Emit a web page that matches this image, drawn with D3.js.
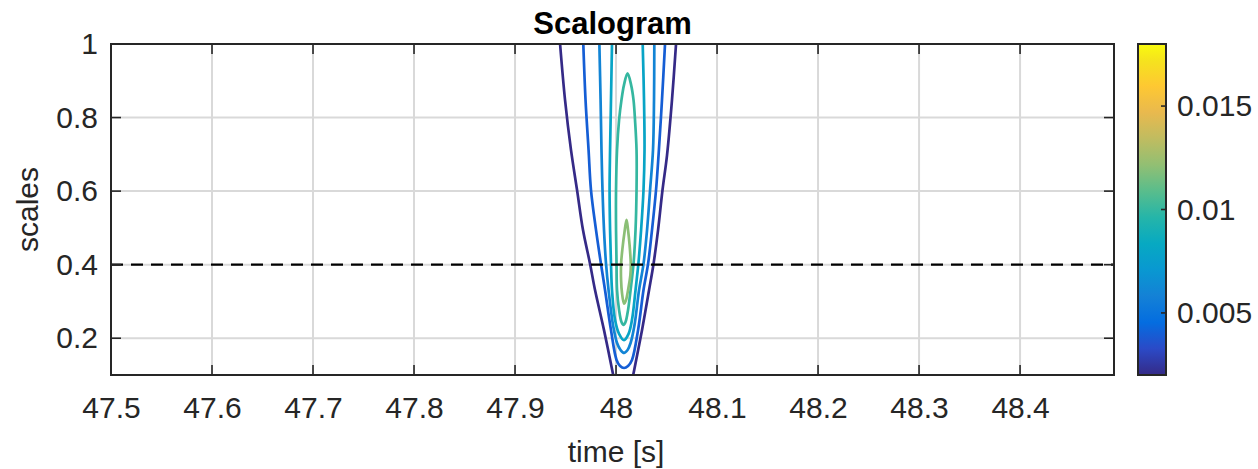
<!DOCTYPE html>
<html>
<head>
<meta charset="utf-8">
<script src="https://cdn.jsdelivr.net/npm/d3@7"></script>
<style>
  body { margin: 0; background: #fff; }
  text { font-family: "Liberation Sans", Arial, sans-serif; fill: #262626; }
</style>
</head>
<body>
<svg id="chart"></svg>
<script>
// axis ranges and ticks
const timeDomain = [47.5, 48.493];
const scaleDomain = [0.1, 1];
const timeTicks = [47.5, 47.6, 47.7, 47.8, 47.9, 48, 48.1, 48.2, 48.3, 48.4];
const scaleTicks = [0.2, 0.4, 0.6, 0.8, 1];
const colorDomain = [0.002, 0.018];
const colorTicks = [0.005, 0.01, 0.015];
const markerScale = 0.4;

// contour levels (coefficient magnitude)
const levels = [0.002, 0.004, 0.006, 0.008, 0.010, 0.012];

// contour paths, [time, scale]
const level1Left = [[47.9446, 1.0], [47.9495, 0.848], [47.9554, 0.712], [47.9614, 0.603], [47.9673, 0.494],
  [47.9743, 0.402], [47.9792, 0.331], [47.9881, 0.222], [47.9972, 0.1]];
const level1Right = [[48.0170, 0.1], [48.0257, 0.222], [48.0327, 0.331], [48.0371, 0.402], [48.0416, 0.494],
  [48.0460, 0.603], [48.0505, 0.698], [48.0554, 0.848], [48.0594, 1.0]];
const level2 = [[47.9676, 1.0], [47.9698, 0.848], [47.9728, 0.712], [47.9752, 0.603], [47.9802, 0.494],
  [47.9851, 0.402], [47.9891, 0.331], [47.9950, 0.222], [48.0005, 0.141], [48.0040, 0.1245], [48.0079, 0.119],
  [48.0119, 0.1245], [48.0158, 0.141], [48.0218, 0.222], [48.0272, 0.331], [48.0317, 0.402], [48.0356, 0.494],
  [48.0396, 0.603], [48.0421, 0.698], [48.0455, 0.848], [48.0485, 1.0]];
const level3 = [[47.9835, 1.0], [47.9847, 0.848], [47.9856, 0.712], [47.9866, 0.603], [47.9881, 0.494],
  [47.9901, 0.402], [47.9926, 0.331], [47.9970, 0.236], [48.0010, 0.187], [48.0045, 0.168], [48.0079, 0.160],
  [48.0114, 0.168], [48.0144, 0.187], [48.0183, 0.236], [48.0228, 0.331], [48.0272, 0.402], [48.0307, 0.494],
  [48.0337, 0.603], [48.0366, 0.712], [48.0376, 0.848], [48.0379, 1.0]];
const level4 = [[47.9960, 1.0], [47.9950, 0.848], [47.9941, 0.712], [47.9936, 0.603], [47.9941, 0.494],
  [47.9950, 0.402], [47.9960, 0.331], [47.9990, 0.250], [48.0030, 0.212], [48.0079, 0.195],
  [48.0124, 0.212], [48.0158, 0.250], [48.0193, 0.331], [48.0221, 0.402], [48.0248, 0.494],
  [48.0272, 0.603], [48.0282, 0.712], [48.0277, 0.848], [48.0264, 1.0]];
const level5 = [[48.0114, 0.920], [48.0079, 0.889], [48.0054, 0.848], [48.0030, 0.793], [48.0010, 0.712],
  [48.0000, 0.603], [48.0000, 0.494], [48.0005, 0.402], [48.0010, 0.331], [48.0030, 0.277], [48.0054, 0.244],
  [48.0074, 0.236], [48.0094, 0.244], [48.0119, 0.277], [48.0144, 0.331], [48.0173, 0.402], [48.0193, 0.494],
  [48.0203, 0.603], [48.0203, 0.712], [48.0188, 0.793], [48.0173, 0.848], [48.0149, 0.889]];
const level6 = [[48.0104, 0.522], [48.0084, 0.489], [48.0064, 0.445], [48.0050, 0.402], [48.0050, 0.358],
  [48.0059, 0.323], [48.0079, 0.294], [48.0099, 0.304], [48.0119, 0.331], [48.0142, 0.372],
  [48.0146, 0.402], [48.0134, 0.454], [48.0119, 0.494]];

const contourLines = [
  {level: levels[0], points: level1Left, closed: false},
  {level: levels[0], points: level1Right, closed: false},
  {level: levels[1], points: level2, closed: false},
  {level: levels[2], points: level3, closed: false},
  {level: levels[3], points: level4, closed: false},
  {level: levels[4], points: level5, closed: true},
  {level: levels[5], points: level6, closed: true}
];

// parula colormap samples
const parula = ['#352a87', '#2b4ac7', '#046de0', '#1481d6', '#0998d1', '#07a9c2', '#25b5a9',
  '#59bd8c', '#92bf73', '#c0bc60', '#e9b94e', '#fec832', '#f5e41d', '#f9fb0e'];
const parulaPos = [0, 5, 10, 15, 20, 25, 30, 35, 40, 45, 50, 55, 60, 63].map(i => i / 63);

const W = 1258, H = 469;
const margin = {top: 44, left: 111, right: 144, bottom: 94};
const width = W - margin.left - margin.right;
const height = H - margin.top - margin.bottom;

const svg = d3.select('#chart').attr('width', W).attr('height', H);

const x = d3.scaleLinear().domain(timeDomain).range([0, width]);
const y = d3.scaleLinear().domain(scaleDomain).range([height, 0]);
const frac = d3.scaleLinear().domain(colorDomain).range([0, 1]).clamp(true);
const cmap = d3.scaleLinear().domain(parulaPos).range(parula).interpolate(d3.interpolateRgb);
const color = v => cmap(frac(v));

const chart = svg.append('g').attr('transform', `translate(${margin.left},${margin.top})`);

svg.append('defs').append('clipPath').attr('id', 'clip')
  .append('rect').attr('width', width).attr('height', height);

// grid
chart.append('g')
  .selectAll('line.vgrid')
  .data(timeTicks)
  .join('line')
    .attr('x1', d => x(d)).attr('x2', d => x(d))
    .attr('y1', 0).attr('y2', height)
    .attr('stroke', '#d9d9d9').attr('stroke-width', 2);
chart.append('g')
  .selectAll('line.hgrid')
  .data(scaleTicks)
  .join('line')
    .attr('y1', d => y(d)).attr('y2', d => y(d))
    .attr('x1', 0).attr('x2', width)
    .attr('stroke', '#d9d9d9').attr('stroke-width', 2);

// contours
const line = d3.line().x(d => x(d[0])).y(d => y(d[1])).curve(d3.curveCatmullRom);
const loop = d3.line().x(d => x(d[0])).y(d => y(d[1])).curve(d3.curveCatmullRomClosed);
chart.append('g').attr('clip-path', 'url(#clip)')
  .selectAll('path')
  .data(contourLines)
  .join('path')
    .attr('d', d => d.closed ? loop(d.points) : line(d.points))
    .attr('fill', 'none')
    .attr('stroke', d => color(d.level))
    .attr('stroke-width', 2.7);

// dashed marker line
chart.append('line')
  .attr('x1', 0).attr('x2', width)
  .attr('y1', y(markerScale)).attr('y2', y(markerScale))
  .attr('stroke', '#000').attr('stroke-width', 2.4)
  .attr('stroke-dasharray', '12,8');

// axes (ticks inside, box on all sides)
const tickLen = 10;
const axisColor = '#262626';
const xAxis = d3.axisBottom(x).tickValues(timeTicks).tickSize(0).tickPadding(22).tickFormat(d3.format('~g'));
const yAxis = d3.axisLeft(y).tickValues(scaleTicks).tickSize(0).tickPadding(13).tickFormat(d3.format('~g'));

const xAxisG = chart.append('g').attr('transform', `translate(0,${height})`).call(xAxis);
const yAxisG = chart.append('g').call(yAxis);
[xAxisG, yAxisG].forEach(g => {
  g.select('.domain').remove();
  g.selectAll('text').style('font-size', '30px').attr('fill', axisColor)
    .style('font-family', '"Liberation Sans", Arial, sans-serif');
});

const ticks = chart.append('g').attr('stroke', axisColor).attr('stroke-width', 1.6);
timeTicks.forEach(t => {
  ticks.append('line').attr('x1', x(t)).attr('x2', x(t)).attr('y1', height).attr('y2', height - tickLen);
  ticks.append('line').attr('x1', x(t)).attr('x2', x(t)).attr('y1', 0).attr('y2', tickLen);
});
scaleTicks.forEach(s => {
  ticks.append('line').attr('y1', y(s)).attr('y2', y(s)).attr('x1', 0).attr('x2', tickLen);
  ticks.append('line').attr('y1', y(s)).attr('y2', y(s)).attr('x1', width).attr('x2', width - tickLen);
});

chart.append('rect')
  .attr('width', width).attr('height', height)
  .attr('fill', 'none').attr('stroke', axisColor).attr('stroke-width', 2);

// titles
chart.append('text')
  .attr('x', width / 2).attr('y', -10)
  .attr('text-anchor', 'middle')
  .style('font-size', '31px').style('font-weight', 'bold').style('fill', '#000')
  .text('Scalogram');

chart.append('text')
  .attr('x', x(48)).attr('y', height + 87)
  .attr('text-anchor', 'middle')
  .style('font-size', '30px')
  .text('time [s]');

chart.append('text')
  .attr('transform', `translate(-73,${height / 2}) rotate(-90)`)
  .attr('text-anchor', 'middle')
  .style('font-size', '30px')
  .text('scales');

// colorbar
const cb = {x: 1138, y: margin.top, w: 28, h: height};
const grad = svg.select('defs').append('linearGradient')
  .attr('id', 'parula').attr('x1', 0).attr('y1', 1).attr('x2', 0).attr('y2', 0);
grad.selectAll('stop')
  .data(parula)
  .join('stop')
    .attr('offset', (d, i) => parulaPos[i])
    .attr('stop-color', d => d);

const cy = d3.scaleLinear().domain(colorDomain).range([cb.y + cb.h, cb.y]);
svg.append('rect')
  .attr('x', cb.x).attr('y', cb.y).attr('width', cb.w).attr('height', cb.h)
  .attr('fill', 'url(#parula)').attr('stroke', axisColor).attr('stroke-width', 2);

const cbAxis = d3.axisRight(cy).tickValues(colorTicks).tickSize(0).tickPadding(11).tickFormat(d3.format('~g'));
const cbG = svg.append('g').attr('transform', `translate(${cb.x + cb.w},0)`).call(cbAxis);
cbG.select('.domain').remove();
cbG.selectAll('text').style('font-size', '30px').attr('fill', axisColor)
  .style('font-family', '"Liberation Sans", Arial, sans-serif');
colorTicks.forEach(v => {
  svg.append('line')
    .attr('x1', cb.x + cb.w - 5).attr('x2', cb.x + cb.w)
    .attr('y1', cy(v)).attr('y2', cy(v))
    .attr('stroke', axisColor).attr('stroke-width', 1.6);
});
</script>
</body>
</html>
